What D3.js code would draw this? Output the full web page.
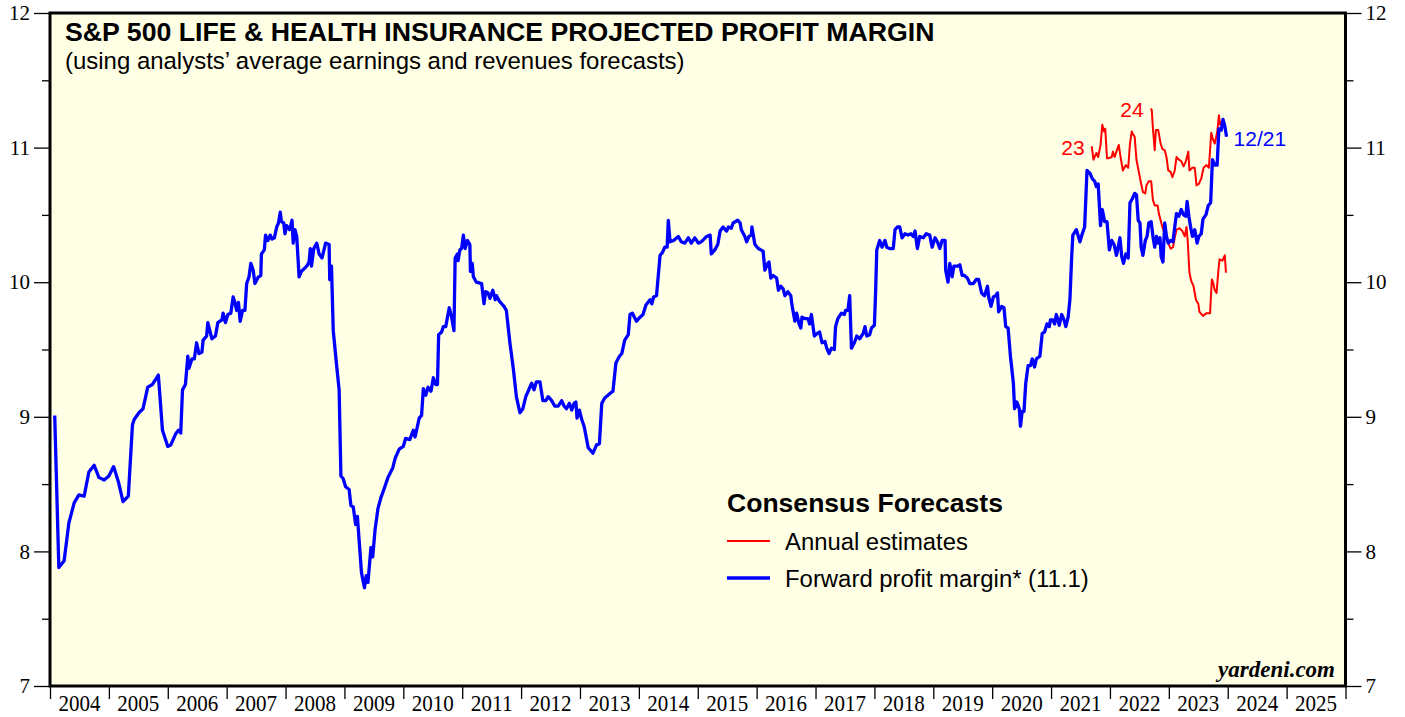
<!DOCTYPE html>
<html>
<head>
<meta charset="utf-8">
<script src="https://cdn.jsdelivr.net/npm/d3@7"></script>
<style>
  html, body { margin: 0; padding: 0; background: #ffffff; }
  svg { display: block; }
</style>
</head>
<body>
<svg id="chart" width="1405" height="717"></svg>
<script>
// ---------------- DATA ----------------
const yearLabels = [2004,2005,2006,2007,2008,2009,2010,2011,2012,2013,2014,2015,2016,2017,2018,2019,2020,2021,2022,2023,2024,2025];
const yMajorTicks = [7, 8, 9, 10, 11, 12];
const yMinorTicks = [7.5, 8.5, 9.5, 10.5, 11.5];

const titleText = "S&P 500 LIFE & HEALTH INSURANCE PROJECTED PROFIT MARGIN";
const subtitleText = "(using analysts\u2019 average earnings and revenues forecasts)";
const legendTitle = "Consensus Forecasts";
const legendLabels = ["Annual estimates", "Forward profit margin* (11.1)"];
const lastDateLabel = "12/21";
const estimateLabels = ["23", "24"];

// Forward profit margin (weekly) [decimal year, %]
const forwardMargin = [
[2004.08,9.01],[2004.15,7.88],[2004.24,7.93],[2004.32,8.21],[2004.41,8.36],[2004.49,8.42],[2004.58,8.41],[2004.66,8.59],[2004.75,8.64],[2004.83,8.55],[2004.92,8.53],
[2005.00,8.56],[2005.08,8.63],[2005.16,8.52],[2005.24,8.37],[2005.33,8.41],[2005.40,8.94],[2005.43,8.98],[2005.51,9.03],[2005.58,9.06],[2005.66,9.22],[2005.74,9.24],[2005.84,9.31],[2005.91,8.90],
[2006.00,8.78],[2006.05,8.79],[2006.13,8.87],[2006.18,8.90],[2006.22,8.88],[2006.25,9.20],[2006.30,9.24],[2006.34,9.45],[2006.36,9.36],[2006.41,9.43],[2006.45,9.43],[2006.49,9.55],[2006.53,9.47],[2006.58,9.48],[2006.60,9.57],[2006.66,9.60],[2006.68,9.70],[2006.72,9.63],[2006.75,9.58],[2006.81,9.60],[2006.85,9.70],[2006.92,9.72],[2006.94,9.77],[2006.98,9.70],
[2007.02,9.76],[2007.07,9.77],[2007.11,9.89],[2007.14,9.85],[2007.17,9.79],[2007.20,9.85],[2007.23,9.71],[2007.27,9.79],[2007.31,9.79],[2007.34,9.99],[2007.38,10.04],[2007.41,10.14],[2007.45,10.09],[2007.48,9.99],[2007.54,10.04],[2007.58,10.05],[2007.59,10.21],[2007.64,10.24],[2007.66,10.35],[2007.70,10.31],[2007.74,10.35],[2007.77,10.32],[2007.81,10.33],[2007.85,10.41],[2007.88,10.44],[2007.91,10.52],[2007.93,10.45],[2007.97,10.44],[2007.99,10.36],
[2008.02,10.42],[2008.07,10.39],[2008.11,10.46],[2008.13,10.29],[2008.16,10.39],[2008.19,10.34],[2008.23,10.04],[2008.27,10.08],[2008.36,10.12],[2008.40,10.15],[2008.42,10.25],[2008.44,10.12],[2008.48,10.25],[2008.53,10.29],[2008.57,10.21],[2008.62,10.18],[2008.68,10.29],[2008.74,10.28],[2008.75,10.02],[2008.78,10.12],[2008.81,9.64],[2008.87,9.37],[2008.91,9.20],[2008.94,8.56],[2008.98,8.54],
[2009.02,8.48],[2009.08,8.46],[2009.11,8.34],[2009.15,8.33],[2009.19,8.20],[2009.22,8.26],[2009.29,7.84],[2009.34,7.73],[2009.37,7.82],[2009.40,7.77],[2009.45,8.03],[2009.48,7.96],[2009.52,8.16],[2009.57,8.32],[2009.62,8.40],[2009.67,8.46],[2009.74,8.55],[2009.82,8.62],[2009.86,8.69],[2009.93,8.76],
[2010.00,8.78],[2010.04,8.84],[2010.11,8.83],[2010.17,8.90],[2010.20,8.85],[2010.23,8.91],[2010.27,8.99],[2010.31,9.01],[2010.34,9.21],[2010.38,9.16],[2010.42,9.22],[2010.47,9.19],[2010.51,9.29],[2010.55,9.24],[2010.58,9.24],[2010.60,9.61],[2010.65,9.63],[2010.68,9.67],[2010.72,9.67],[2010.75,9.74],[2010.78,9.81],[2010.82,9.74],[2010.86,9.64],[2010.88,10.18],[2010.92,10.21],[2010.93,10.16],[2010.96,10.24],[2010.99,10.25],
[2011.02,10.35],[2011.05,10.25],[2011.09,10.31],[2011.13,10.28],[2011.14,10.08],[2011.17,10.14],[2011.19,10.04],[2011.24,10.00],[2011.33,9.99],[2011.37,9.84],[2011.40,9.93],[2011.44,9.92],[2011.47,9.88],[2011.52,9.94],[2011.56,9.87],[2011.58,9.90],[2011.63,9.86],[2011.67,9.84],[2011.71,9.82],[2011.75,9.79],[2011.81,9.55],[2011.87,9.35],[2011.92,9.15],[2011.98,9.03],
[2012.03,9.06],[2012.08,9.15],[2012.14,9.21],[2012.18,9.25],[2012.22,9.20],[2012.26,9.26],[2012.32,9.26],[2012.37,9.12],[2012.42,9.12],[2012.46,9.15],[2012.52,9.12],[2012.57,9.08],[2012.63,9.08],[2012.69,9.12],[2012.73,9.08],[2012.77,9.06],[2012.82,9.10],[2012.86,9.05],[2012.90,9.10],[2012.93,9.11],[2012.95,8.99],[2012.99,9.05],
[2013.03,8.98],[2013.07,8.93],[2013.14,8.77],[2013.22,8.73],[2013.28,8.79],[2013.33,8.80],[2013.37,9.10],[2013.42,9.14],[2013.50,9.17],[2013.56,9.19],[2013.61,9.40],[2013.67,9.45],[2013.71,9.47],[2013.76,9.57],[2013.82,9.61],[2013.85,9.76],[2013.89,9.77],[2013.96,9.71],
[2014.02,9.74],[2014.07,9.76],[2014.12,9.83],[2014.19,9.87],[2014.22,9.84],[2014.25,9.89],[2014.30,9.90],[2014.36,10.20],[2014.40,10.22],[2014.44,10.26],[2014.48,10.26],[2014.50,10.46],[2014.53,10.30],[2014.59,10.31],[2014.67,10.34],[2014.72,10.30],[2014.78,10.29],[2014.84,10.33],[2014.89,10.29],[2014.95,10.33],
[2015.01,10.29],[2015.06,10.30],[2015.15,10.34],[2015.21,10.35],[2015.23,10.21],[2015.29,10.24],[2015.34,10.28],[2015.38,10.38],[2015.43,10.41],[2015.49,10.38],[2015.52,10.41],[2015.57,10.40],[2015.60,10.44],[2015.68,10.46],[2015.72,10.44],[2015.74,10.39],[2015.80,10.34],[2015.83,10.30],[2015.87,10.34],[2015.91,10.35],[2015.92,10.41],[2015.97,10.28],
[2016.03,10.25],[2016.07,10.24],[2016.11,10.23],[2016.14,10.09],[2016.19,10.14],[2016.21,10.15],[2016.24,10.03],[2016.28,10.05],[2016.34,10.03],[2016.37,9.94],[2016.41,9.97],[2016.45,9.95],[2016.48,9.90],[2016.53,9.93],[2016.58,9.90],[2016.60,9.83],[2016.65,9.71],[2016.68,9.77],[2016.72,9.69],[2016.75,9.66],[2016.77,9.74],[2016.82,9.73],[2016.87,9.73],[2016.90,9.69],[2016.93,9.76],[2016.98,9.60],
[2017.03,9.62],[2017.07,9.63],[2017.11,9.55],[2017.16,9.56],[2017.19,9.51],[2017.23,9.47],[2017.27,9.51],[2017.32,9.50],[2017.34,9.67],[2017.38,9.73],[2017.44,9.77],[2017.49,9.76],[2017.51,9.79],[2017.55,9.79],[2017.58,9.90],[2017.61,9.51],[2017.66,9.55],[2017.70,9.60],[2017.75,9.58],[2017.81,9.62],[2017.84,9.67],[2017.87,9.60],[2017.92,9.61],[2017.95,9.66],
[2018.00,9.68],[2018.02,9.92],[2018.04,10.24],[2018.09,10.31],[2018.13,10.26],[2018.18,10.31],[2018.21,10.26],[2018.26,10.25],[2018.32,10.25],[2018.35,10.39],[2018.39,10.41],[2018.43,10.41],[2018.47,10.33],[2018.52,10.36],[2018.57,10.35],[2018.62,10.36],[2018.66,10.34],[2018.69,10.38],[2018.73,10.25],[2018.77,10.34],[2018.83,10.33],[2018.88,10.36],[2018.94,10.35],[2018.98,10.26],
[2019.03,10.33],[2019.07,10.30],[2019.11,10.25],[2019.15,10.31],[2019.20,10.31],[2019.21,10.09],[2019.25,10.00],[2019.28,10.14],[2019.32,10.04],[2019.35,10.12],[2019.42,10.12],[2019.45,10.13],[2019.49,10.05],[2019.53,10.05],[2019.58,10.03],[2019.62,9.99],[2019.68,9.99],[2019.73,10.02],[2019.77,10.02],[2019.82,9.92],[2019.87,9.90],[2019.92,9.97],[2019.94,9.89],[2019.98,9.82],
[2020.02,9.89],[2020.06,9.90],[2020.09,9.92],[2020.11,9.78],[2020.16,9.82],[2020.20,9.81],[2020.23,9.67],[2020.27,9.66],[2020.31,9.45],[2020.36,9.25],[2020.38,9.06],[2020.42,9.11],[2020.46,9.06],[2020.48,8.93],[2020.51,9.04],[2020.54,9.04],[2020.57,9.25],[2020.61,9.38],[2020.65,9.38],[2020.68,9.43],[2020.72,9.37],[2020.75,9.43],[2020.81,9.45],[2020.85,9.62],[2020.89,9.63],[2020.93,9.69],[2020.97,9.67],[2020.99,9.72],
[2021.03,9.72],[2021.06,9.69],[2021.09,9.76],[2021.14,9.68],[2021.18,9.76],[2021.22,9.72],[2021.25,9.67],[2021.29,9.74],[2021.32,9.87],[2021.35,10.19],[2021.37,10.35],[2021.43,10.39],[2021.49,10.30],[2021.53,10.36],[2021.57,10.41],[2021.61,10.83],[2021.66,10.81],[2021.70,10.77],[2021.74,10.75],[2021.77,10.71],[2021.80,10.73],[2021.84,10.42],[2021.87,10.54],[2021.91,10.45],[2021.95,10.45],[2021.99,10.24],
[2022.03,10.31],[2022.07,10.28],[2022.11,10.20],[2022.14,10.26],[2022.17,10.33],[2022.20,10.19],[2022.23,10.14],[2022.27,10.21],[2022.31,10.18],[2022.34,10.59],[2022.38,10.62],[2022.42,10.66],[2022.45,10.65],[2022.48,10.46],[2022.51,10.44],[2022.53,10.26],[2022.56,10.20],[2022.60,10.31],[2022.63,10.34],[2022.66,10.44],[2022.70,10.45],[2022.73,10.34],[2022.76,10.26],[2022.79,10.34],[2022.82,10.29],[2022.85,10.33],[2022.87,10.19],[2022.90,10.15],[2022.93,10.44],[2022.96,10.34],[2022.99,10.29],
[2023.03,10.31],[2023.07,10.30],[2023.10,10.41],[2023.13,10.51],[2023.17,10.49],[2023.21,10.54],[2023.25,10.50],[2023.29,10.49],[2023.31,10.60],[2023.34,10.49],[2023.37,10.41],[2023.40,10.34],[2023.44,10.39],[2023.48,10.29],[2023.51,10.34],[2023.55,10.36],[2023.58,10.47],[2023.63,10.50],[2023.67,10.57],[2023.71,10.59],[2023.74,10.91],[2023.78,10.87],[2023.82,10.87],[2023.85,11.14],[2023.89,11.13],[2023.92,11.21],[2023.95,11.16],[2023.98,11.08]
];

// Annual estimate for 2023 [decimal year, %]
const estimate2023 = [
[2021.69,11.01],[2021.72,10.91],[2021.77,10.96],[2021.80,10.93],[2021.84,11.02],[2021.87,11.17],[2021.90,11.12],[2021.92,11.14],[2021.95,10.92],[2021.97,10.92],
[2022.03,10.93],[2022.05,10.97],[2022.08,10.93],[2022.11,10.97],[2022.15,11.02],[2022.18,10.93],[2022.22,10.83],[2022.27,10.87],[2022.31,10.85],[2022.34,11.03],[2022.37,11.12],[2022.39,11.10],[2022.42,11.08],[2022.45,10.91],[2022.49,10.82],[2022.53,10.73],[2022.56,10.67],[2022.60,10.66],[2022.62,10.72],[2022.66,10.75],[2022.70,10.75],[2022.73,10.61],[2022.76,10.57],[2022.81,10.57],[2022.83,10.51],[2022.86,10.46],[2022.89,10.41],[2022.93,10.36],[2022.96,10.34],[2022.99,10.29],
[2023.03,10.25],[2023.07,10.26],[2023.10,10.33],[2023.13,10.39],[2023.18,10.40],[2023.23,10.38],[2023.27,10.34],[2023.30,10.41],[2023.32,10.31],[2023.35,10.07],[2023.38,10.01],[2023.42,9.97],[2023.46,9.87],[2023.50,9.84],[2023.52,9.78],[2023.58,9.75],[2023.64,9.77],[2023.70,9.77],[2023.73,10.02],[2023.75,10.00],[2023.78,9.94],[2023.81,9.92],[2023.84,10.08],[2023.86,10.17],[2023.91,10.16],[2023.95,10.20],[2023.97,10.07]
];

// Annual estimate for 2024 [decimal year, %]
const estimate2024 = [
[2022.69,11.29],[2022.71,11.28],[2022.73,11.14],[2022.76,10.98],[2022.78,11.13],[2022.82,11.13],[2022.86,11.03],[2022.89,10.99],[2022.93,10.98],[2022.96,10.93],[2022.99,10.83],
[2023.03,10.82],[2023.06,10.78],[2023.10,10.83],[2023.13,10.93],[2023.17,10.91],[2023.21,10.90],[2023.25,10.86],[2023.29,10.90],[2023.33,10.97],[2023.35,10.83],[2023.40,10.85],[2023.44,10.85],[2023.47,10.72],[2023.51,10.73],[2023.55,10.77],[2023.59,10.85],[2023.64,10.87],[2023.68,10.85],[2023.72,11.11],[2023.75,11.06],[2023.78,11.03],[2023.82,11.11],[2023.85,11.24],[2023.87,11.17],[2023.91,11.20],[2023.95,11.18]
];

// ---------------- CHART ----------------
const svg = d3.select("#chart");
const M = { left: 50, right: 1345.5, top: 13, bottom: 686 };
const BLUE = "#0000ff", RED = "#ff0000", BG = "#ffffe6";
const SANS = "'Liberation Sans', Arial, Helvetica, sans-serif";
const SERIF = "'Liberation Serif', 'Times New Roman', Times, serif";

const x = d3.scaleLinear().domain([2004, 2026]).range([M.left, M.right]);
const y = d3.scaleLinear().domain([7, 12]).range([M.bottom, M.top]);

// plot background
svg.append("rect")
  .attr("x", M.left).attr("y", M.top)
  .attr("width", M.right - M.left).attr("height", M.bottom - M.top)
  .attr("fill", BG);

// axes
function styleAxis(g) {
  g.select(".domain").remove();
  g.selectAll(".tick line").attr("stroke", "#000").attr("stroke-width", 1.3);
  g.selectAll(".tick text").attr("font-family", SERIF).attr("font-size", 21).attr("fill", "#000");
}
svg.append("g").attr("transform", `translate(${M.left},0)`)
  .call(d3.axisLeft(y).tickValues(yMajorTicks).tickSize(16).tickPadding(4).tickFormat(d3.format("d")))
  .call(styleAxis);
svg.append("g").attr("transform", `translate(${M.left},0)`)
  .call(d3.axisLeft(y).tickValues(yMinorTicks).tickSize(8).tickFormat(""))
  .call(styleAxis);
svg.append("g").attr("transform", `translate(${M.right},0)`)
  .call(d3.axisRight(y).tickValues(yMajorTicks).tickSize(16).tickPadding(4).tickFormat(d3.format("d")))
  .call(styleAxis);
svg.append("g").attr("transform", `translate(${M.right},0)`)
  .call(d3.axisRight(y).tickValues(yMinorTicks).tickSize(8).tickFormat(""))
  .call(styleAxis);

const yearBounds = yearLabels.concat([yearLabels[yearLabels.length - 1] + 1]);
svg.append("g").attr("transform", `translate(0,${M.bottom})`)
  .call(d3.axisBottom(x).tickValues(yearBounds).tickSize(13).tickFormat(""))
  .call(styleAxis);

// year labels centred between ticks, tall condensed serif
svg.append("g").selectAll("text").data(yearLabels).join("text")
  .attr("x", d => x(d + 0.5))
  .attr("y", 711)
  .attr("text-anchor", "middle")
  .attr("font-family", SERIF)
  .attr("font-size", 23)
  .attr("textLength", 42)
  .attr("lengthAdjust", "spacingAndGlyphs")
  .attr("fill", "#000")
  .text(d => d);

// lines
const line = d3.line().x(d => x(d[0])).y(d => y(d[1]));
svg.append("path").datum(estimate2023).attr("d", line)
  .attr("fill", "none").attr("stroke", RED).attr("stroke-width", 2).attr("stroke-linejoin", "round");
svg.append("path").datum(estimate2024).attr("d", line)
  .attr("fill", "none").attr("stroke", RED).attr("stroke-width", 2).attr("stroke-linejoin", "round");
svg.append("path").datum(forwardMargin).attr("d", line)
  .attr("fill", "none").attr("stroke", BLUE).attr("stroke-width", 3.3).attr("stroke-linejoin", "round");

// frame
svg.append("rect")
  .attr("x", M.left).attr("y", M.top)
  .attr("width", M.right - M.left).attr("height", M.bottom - M.top)
  .attr("fill", "none").attr("stroke", "#000").attr("stroke-width", 3);

// helper: fit text to a target width
function fit(sel, w) {
  const cur = sel.node().getComputedTextLength();
  const fs = parseFloat(sel.attr("font-size"));
  if (cur > 0) sel.attr("font-size", fs * w / cur);
  return sel;
}

// titles
fit(svg.append("text").attr("x", 65).attr("y", 41)
  .attr("font-family", SANS).attr("font-weight", "bold").attr("font-size", 22)
  .attr("fill", "#000").text(titleText), 870);
fit(svg.append("text").attr("x", 65).attr("y", 69)
  .attr("font-family", SANS).attr("font-size", 19)
  .attr("fill", "#000").text(subtitleText), 620);

// series end labels
const f23 = estimate2023[0], f24 = estimate2024[0], lastB = forwardMargin[forwardMargin.length - 1];
svg.append("text").attr("x", x(f23[0]) - 7).attr("y", y(f23[1]) + 9)
  .attr("text-anchor", "end").attr("font-family", SANS).attr("font-size", 21)
  .attr("fill", RED).text(estimateLabels[0]);
svg.append("text").attr("x", x(f24[0]) - 7).attr("y", y(f24[1]) + 8)
  .attr("text-anchor", "end").attr("font-family", SANS).attr("font-size", 21)
  .attr("fill", RED).text(estimateLabels[1]);
svg.append("text").attr("x", x(lastB[0]) + 7).attr("y", y(lastB[1]) + 9)
  .attr("font-family", SANS).attr("font-size", 21)
  .attr("fill", BLUE).text(lastDateLabel);

// legend
fit(svg.append("text").attr("x", 727).attr("y", 512)
  .attr("font-family", SANS).attr("font-weight", "bold").attr("font-size", 24)
  .attr("fill", "#000").text(legendTitle), 276);
const legendRows = [
  { label: legendLabels[0], color: RED, width: 2, ly: 541, w: 183 },
  { label: legendLabels[1], color: BLUE, width: 3.3, ly: 578, w: 304 }
];
legendRows.forEach(r => {
  svg.append("line").attr("x1", 727).attr("x2", 770).attr("y1", r.ly).attr("y2", r.ly)
    .attr("stroke", r.color).attr("stroke-width", r.width);
  fit(svg.append("text").attr("x", 785).attr("y", r.ly + 9)
    .attr("font-family", SANS).attr("font-size", 22)
    .attr("fill", "#000").text(r.label), r.w);
});

// watermark
fit(svg.append("text").attr("x", 1335).attr("y", 677)
  .attr("text-anchor", "end")
  .attr("font-family", SERIF).attr("font-weight", "bold").attr("font-style", "italic")
  .attr("font-size", 20).attr("fill", "#000").text("yardeni.com"), 117);
</script>
</body>
</html>
